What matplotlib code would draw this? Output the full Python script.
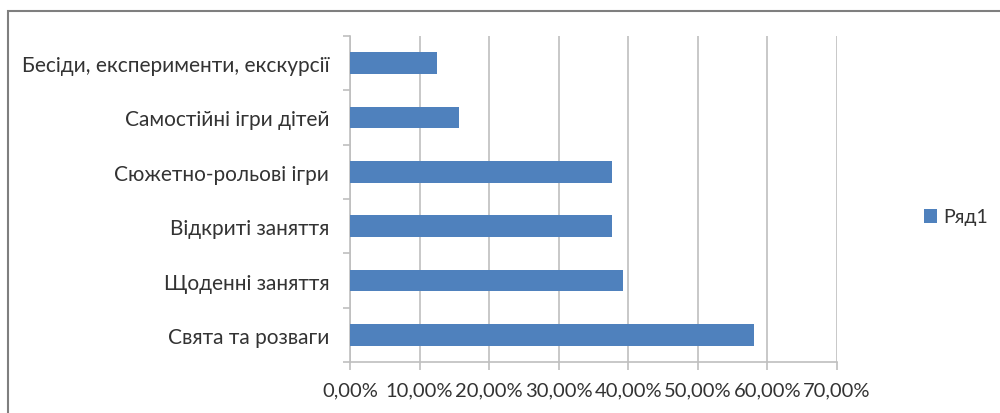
import matplotlib.pyplot as plt
from matplotlib.patches import Rectangle
from matplotlib.ticker import FuncFormatter, MultipleLocator

plt.rcParams['font.family'] = ['Lato', 'DejaVu Sans']

categories = ['Свята та розваги', 'Щоденні заняття', 'Відкриті заняття',
              'Сюжетно-рольові ігри', 'Самостійні ігри дітей',
              'Бесіди, експерименти, екскурсії']
values = [58.0, 39.2, 37.6, 37.6, 15.7, 12.5]
series_name = 'Ряд1'

bar_color = '#4f81bd'
grid_color = '#bfbfbf'
text_color = '#333333'
fs = 14.5

W, H = 1000, 414
fig = plt.figure(figsize=(W / 100, H / 100), dpi=100)
# axes placed in pixel terms: left 350, right 837, top 37, bottom 363
ax = fig.add_axes([350 / W, 1 - 363 / H, (837 - 350) / W, (363 - 37) / H])

pos = range(len(categories))
ax.barh(pos, values, height=0.4, color=bar_color, label=series_name, zorder=3)

ax.set_xlim(0, 70)
ax.set_ylim(-0.5, len(categories) - 0.5)
ax.xaxis.set_major_locator(MultipleLocator(10))
ax.xaxis.set_major_formatter(FuncFormatter(lambda v, p: f'{v:.2f}%'.replace('.', ',')))
ax.grid(axis='x', color=grid_color, lw=1.2, zorder=0)

ax.set_yticks([p + 0.5 for p in range(-1, len(categories))], minor=False)
ax.set_yticklabels([])
ax.set_yticks(list(pos), minor=True)
ax.set_yticklabels(categories, minor=True)
ax.tick_params(axis='y', which='major', length=5, color=grid_color, width=1.2)
ax.tick_params(axis='y', which='minor', length=0, pad=15, labelsize=15, labelcolor=text_color)
ax.tick_params(axis='x', length=6, color=grid_color, width=1.2, pad=8,
               labelsize=fs, labelcolor=text_color)

for s in ['top', 'right']:
    ax.spines[s].set_visible(False)
for s in ['left', 'bottom']:
    ax.spines[s].set_color(grid_color)
    ax.spines[s].set_linewidth(1.2)

leg = fig.legend(loc='center left', bbox_to_anchor=(906 / W, 1 - 218 / H), frameon=False,
                 fontsize=14, handlelength=0.7, handleheight=0.7, handletextpad=0.3,
                 labelcolor=text_color)

# outer chart frame, runs off the right and bottom edges
fig.patches.append(Rectangle((8 / W, -0.05), 1.1, 1 - 12 / H + 0.05, transform=fig.transFigure,
                             fill=False, edgecolor='#7f7f7f', lw=1.5))

fig.savefig('out.png', dpi=100)
